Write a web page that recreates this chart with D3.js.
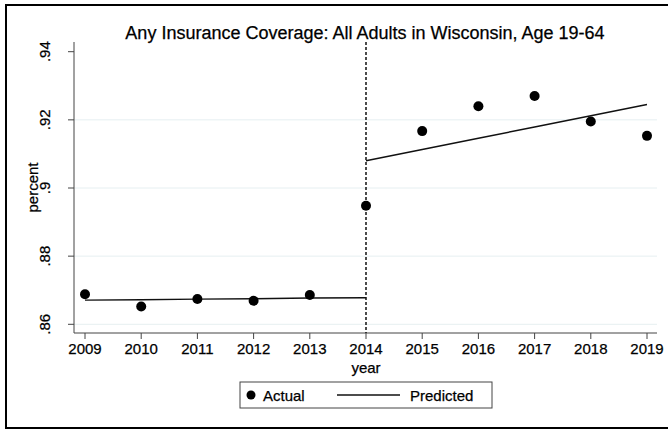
<!DOCTYPE html>
<html lang="en">
<head>
  <meta charset="UTF-8">
  <title>Any Insurance Coverage: All Adults in Wisconsin</title>
  <script src="https://d3js.org/d3.v7.min.js"></script>
  <style>
    body { margin: 0; background: #fff; }
    svg { display: block; font-family: 'Liberation Sans', Arial, Helvetica, sans-serif; }
    svg text { fill: #000; stroke: #000; stroke-width: 0.25px; }
  </style>
</head>
<body>
  <svg id="chart" width="668" height="431"></svg>
  <script>
    const years = [2009, 2010, 2011, 2012, 2013, 2014, 2015, 2016, 2017, 2018, 2019];
    const actual = [0.8688, 0.8652, 0.8674, 0.8669, 0.8686, 0.8948, 0.9167, 0.9240, 0.9270, 0.9195, 0.9153];
    // fitted segments, before and after 2014
    const predYearsPre = [2009, 2010, 2011, 2012, 2013, 2014];
    const predPre = [0.8671, 0.8672, 0.8674, 0.8675, 0.8677, 0.8678];
    const predYearsPost = [2014, 2015, 2016, 2017, 2018, 2019];
    const predPost = [0.9080, 0.9113, 0.9146, 0.9179, 0.9212, 0.9245];
    const yTicks = [0.86, 0.88, 0.90, 0.92, 0.94];
    const yTickLabels = [".86", ".88", ".9", ".92", ".94"];
    const gridTicks = [0.86, 0.88, 0.90, 0.92];

    const svg = d3.select("#chart");
    const x = d3.scaleLinear().domain([2009, 2019]).range([85, 647]);
    const y = d3.scaleLinear().domain([0.86, 0.94]).range([324.3, 51.7]);
    const plot = { left: 74, right: 657, top: 42, bottom: 333 };
    const fs = 15;

    // outer frame (right edge is cropped in the original)
    svg.append("rect")
      .attr("x", 6).attr("y", 5).attr("width", 670).attr("height", 423)
      .attr("fill", "none").attr("stroke", "#000").attr("stroke-width", 2);

    // title
    svg.append("text")
      .attr("x", 365).attr("y", 39)
      .attr("text-anchor", "middle")
      .attr("font-size", 18)
      .text("Any Insurance Coverage: All Adults in Wisconsin, Age 19-64");

    // grid
    svg.append("g").selectAll("line").data(gridTicks).join("line")
      .attr("x1", plot.left).attr("x2", plot.right)
      .attr("y1", d => y(d)).attr("y2", d => y(d))
      .attr("stroke", "#e6eff1").attr("stroke-width", 1);

    // y axis
    const yAxis = svg.append("g").attr("transform", `translate(${plot.left},0)`);
    yAxis.append("line")
      .attr("x1", 0).attr("x2", 0).attr("y1", plot.top).attr("y2", plot.bottom)
      .attr("stroke", "#444");
    yAxis.selectAll(".tick").data(yTicks).join("line")
      .attr("x1", -6).attr("x2", 0)
      .attr("y1", d => y(d)).attr("y2", d => y(d))
      .attr("stroke", "#444");
    yAxis.selectAll("text").data(yTicks).join("text")
      .attr("transform", d => `translate(-29,${y(d)}) rotate(-90)`)
      .attr("text-anchor", "middle")
      .attr("dy", "0.35em")
      .attr("font-size", fs)
      .text((d, i) => yTickLabels[i]);

    svg.append("text")
      .attr("transform", `translate(38,${(plot.top + plot.bottom) / 2}) rotate(-90)`)
      .attr("text-anchor", "middle")
      .attr("font-size", fs)
      .text("percent");

    // x axis
    const xAxis = svg.append("g").attr("transform", `translate(0,${plot.bottom})`);
    xAxis.append("line")
      .attr("x1", plot.left).attr("x2", plot.right)
      .attr("stroke", "#444");
    xAxis.selectAll(".tick").data(years).join("line")
      .attr("x1", d => x(d)).attr("x2", d => x(d))
      .attr("y1", 0).attr("y2", 6)
      .attr("stroke", "#444");
    xAxis.selectAll("text").data(years).join("text")
      .attr("x", d => x(d)).attr("y", 21)
      .attr("text-anchor", "middle")
      .attr("font-size", fs)
      .text(d => d);

    svg.append("text")
      .attr("x", x(2014)).attr("y", 373)
      .attr("text-anchor", "middle")
      .attr("font-size", fs)
      .text("year");

    // policy line
    svg.append("line")
      .attr("x1", x(2014)).attr("x2", x(2014))
      .attr("y1", plot.top).attr("y2", plot.bottom)
      .attr("stroke", "#111").attr("stroke-width", 1.5)
      .attr("stroke-dasharray", "3,2");

    // predicted
    const line = d3.line().x(d => x(d[0])).y(d => y(d[1]));
    [[predYearsPre, predPre], [predYearsPost, predPost]].forEach(([yr, v]) => {
      svg.append("path")
        .datum(yr.map((d, i) => [d, v[i]]))
        .attr("d", line)
        .attr("fill", "none").attr("stroke", "#111").attr("stroke-width", 1.4);
    });

    // actual
    svg.append("g").selectAll("circle").data(years).join("circle")
      .attr("cx", d => x(d))
      .attr("cy", (d, i) => y(actual[i]))
      .attr("r", 5)
      .attr("fill", "#000");

    // legend
    const lg = svg.append("g");
    lg.append("rect")
      .attr("x", 240).attr("y", 382).attr("width", 252).attr("height", 26)
      .attr("fill", "#fff").attr("stroke", "#444").attr("stroke-width", 1);
    lg.append("circle").attr("cx", 251).attr("cy", 395).attr("r", 4.5).attr("fill", "#000");
    lg.append("text").attr("x", 263).attr("y", 400.5).attr("font-size", fs).text("Actual");
    lg.append("line").attr("x1", 337).attr("x2", 400).attr("y1", 395).attr("y2", 395)
      .attr("stroke", "#111").attr("stroke-width", 1.4);
    lg.append("text").attr("x", 410).attr("y", 400.5).attr("font-size", fs).text("Predicted");
  </script>
</body>
</html>
